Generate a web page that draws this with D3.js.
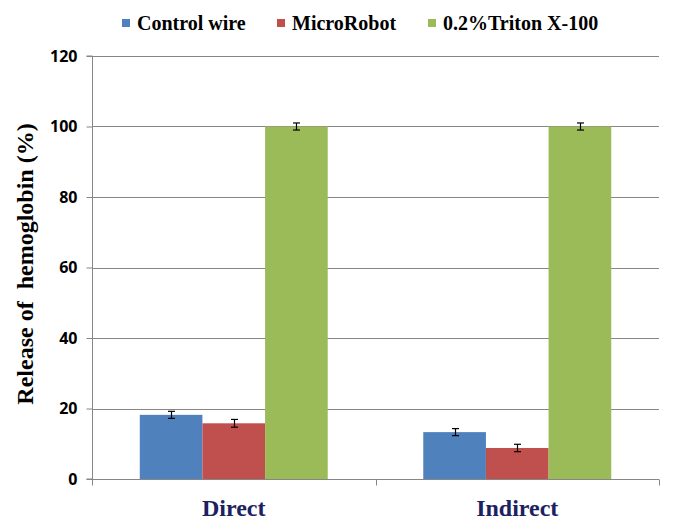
<!DOCTYPE html>
<html><head><meta charset="utf-8">
<script src="https://cdn.jsdelivr.net/npm/d3@7"></script>
<style>body{margin:0;background:#fff}</style>
</head><body>
<script>
const categories = ["Direct", "Indirect"];
const seriesNames = ["Control wire", "MicroRobot", "0.2%Triton X-100"];
const controlWire = [18.2, 13.3];
const microRobot = [15.8, 8.8];
const triton = [100, 100];
const controlWireErr = [1.0, 1.0];
const microRobotErr = [1.1, 1.05];
const tritonErr = [1.0, 1.0];
const yTicks = [0, 20, 40, 60, 80, 100, 120];
const colors = ["#4F81BD", "#C0504D", "#9BBB59"];

const values = [controlWire, microRobot, triton];
const errs = [controlWireErr, microRobotErr, tritonErr];

const W = 673, H = 529;
const m = {left: 92, right: 14, top: 56, bottom: 50};
const svg = d3.select("body").append("svg").attr("width", W).attr("height", H);

const x0 = d3.scaleBand().domain(categories).range([m.left, W - m.right]).paddingInner(0.337).paddingOuter(0.1685);
const x1 = d3.scaleBand().domain(seriesNames).range([0, x0.bandwidth()]);
const y = d3.scaleLinear().domain([0, 120]).range([H - m.bottom, m.top]);

// gridlines
svg.append("g").selectAll("line").data(yTicks.filter(d => d > 0)).join("line")
  .attr("x1", m.left).attr("x2", W - m.right)
  .attr("y1", d => Math.round(y(d)) + 0.5).attr("y2", d => Math.round(y(d)) + 0.5)
  .attr("stroke", "#868686").attr("stroke-width", 1);

// bars
const g = svg.append("g");
seriesNames.forEach((s, si) => {
  g.append("g").selectAll("rect").data(categories).join("rect")
    .attr("x", c => x0(c) + x1(s))
    .attr("width", x1.bandwidth())
    .attr("y", (c, i) => y(values[si][i]))
    .attr("height", (c, i) => y(0) - y(values[si][i]))
    .attr("fill", colors[si]);
});

// error bars
seriesNames.forEach((s, si) => {
  categories.forEach((c, i) => {
    const cx = Math.round(x0(c) + x1(s) + x1.bandwidth() / 2) + 0.5;
    const v = values[si][i], e = errs[si][i];
    const eg = svg.append("g").attr("stroke", "#000").attr("stroke-width", 1.2);
    eg.append("line").attr("x1", cx).attr("x2", cx).attr("y1", y(v + e)).attr("y2", y(v - e));
    eg.append("line").attr("x1", cx - 3.5).attr("x2", cx + 3.5).attr("y1", y(v + e)).attr("y2", y(v + e));
    eg.append("line").attr("x1", cx - 3.5).attr("x2", cx + 3.5).attr("y1", y(v - e)).attr("y2", y(v - e));
  });
});

// y axis
const yAxis = d3.axisLeft(y).tickValues(yTicks).tickSize(6).tickPadding(9);
const ya = svg.append("g").attr("transform", `translate(${m.left + 0.5},0)`).call(yAxis);
ya.select(".domain").attr("stroke", "#868686").attr("d", `M-6,${y(120)}H0V${y(0)}H-6`);
ya.selectAll(".tick line").attr("stroke", "#868686");
ya.selectAll(".tick text").attr("font-family", "Open Sans, sans-serif").attr("font-weight", "bold")
  .attr("font-size", 16).attr("fill", "#000");

// x axis
const xa = svg.append("g").attr("transform", `translate(0,${Math.round(y(0)) + 0.5})`);
xa.append("line").attr("x1", m.left).attr("x2", W - m.right).attr("stroke", "#868686");
const bounds = [m.left, (x0("Direct") + x0.bandwidth() + x0("Indirect")) / 2, W - m.right];
xa.selectAll("line.bt").data(bounds).join("line").attr("class", "bt")
  .attr("x1", d => Math.round(d) + 0.5).attr("x2", d => Math.round(d) + 0.5)
  .attr("y1", 0).attr("y2", 6).attr("stroke", "#868686");
xa.selectAll("text").data(categories).join("text")
  .attr("x", c => x0(c) + x0.bandwidth() / 2).attr("y", 36)
  .attr("text-anchor", "middle").attr("font-family", "Liberation Serif, Times New Roman, serif")
  .attr("font-weight", "bold").attr("font-size", 24).attr("fill", "#1C2260")
  .text(d => d);

// y title
svg.append("text").attr("transform", `translate(33,${264}) rotate(-90)`)
  .attr("text-anchor", "middle").attr("font-family", "Liberation Serif, Times New Roman, serif")
  .attr("font-weight", "bold").attr("font-size", 24).attr("fill", "#000")
  .attr("xml:space", "preserve").style("white-space", "pre")
  .text("Release of  hemoglobin (%)");

// legend
const legX = [122, 277, 428];
const leg = svg.append("g");
seriesNames.forEach((s, i) => {
  leg.append("rect").attr("x", legX[i]).attr("y", 19).attr("width", 8).attr("height", 8).attr("fill", colors[i]);
  leg.append("text").attr("x", legX[i] + 15).attr("y", 30)
    .attr("font-family", "Liberation Serif, Times New Roman, serif").attr("font-weight", "bold")
    .attr("font-size", 20).attr("fill", "#000").text(s);
});
</script>
</body></html>
